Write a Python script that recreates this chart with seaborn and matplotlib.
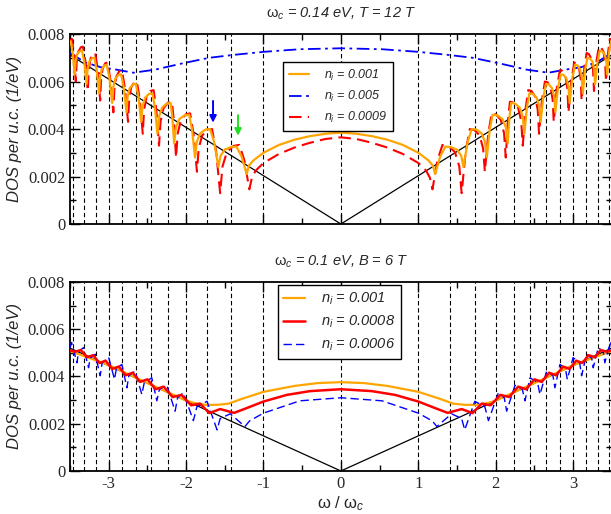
import matplotlib
matplotlib.use("Agg")
import matplotlib.pyplot as plt
import numpy as np
import seaborn as sns
from matplotlib.ticker import MultipleLocator, FuncFormatter

# Landau level positions (omega / omega_c); drawn at +/- each value
landau_levels = [0.0, 1.0, 1.414, 1.732, 2.0, 2.236, 2.449, 2.646, 2.828, 3.0, 3.162, 3.317, 3.464]

# clean-limit linear DOS (black line)
clean_x = [-3.5, 0.0, 3.5]
top_clean_y = [0.00712, 0.0, 0.00712]
bot_clean_y = [0.0052, 0.0, 0.0052]

top_orange_x = [-3.5, -3.49, -3.465, -3.44,
                -3.429, -3.407, -3.373, -3.345, -3.315, -3.285,
                -3.273, -3.25, -3.215, -3.185, -3.155, -3.125,
                -3.113, -3.09, -3.055, -3.025, -2.99, -2.955,
                -2.941, -2.915, -2.875, -2.84, -2.805, -2.77,
                -2.756, -2.728, -2.686, -2.65, -2.615, -2.58,
                -2.563, -2.529, -2.479, -2.435, -2.403, -2.37,
                -2.35, -2.31, -2.251, -2.2, -2.178, -2.155,
                -2.132, -2.087, -2.019, -1.96, -1.923, -1.885,
                -1.862, -1.817, -1.749, -1.69, -1.637, -1.583,
                -1.555, -1.501, -1.42, -1.35, -1.284, -1.217,
                -1.19, -1.13, -1.0, -0.8, -0.6, -0.4, -0.2, 0.0]
top_orange_y = [0.0076, 0.0077, 0.00721, 0.0063,
                0.00685, 0.00715, 0.00728, 0.0073, 0.00681, 0.0059,
                0.00651, 0.00684, 0.00698, 0.0070, 0.00648, 0.0055,
                0.00616, 0.00652, 0.00668, 0.0067, 0.00614, 0.0051,
                0.00576, 0.00612, 0.00628, 0.0063, 0.00574, 0.0047,
                0.00536, 0.00572, 0.00588, 0.0059, 0.00534, 0.0043,
                0.00496, 0.00532, 0.00548, 0.0055, 0.0049, 0.0038,
                0.00452, 0.0049, 0.00507, 0.0051, 0.0045, 0.0034,
                0.00406, 0.00442, 0.00458, 0.0046, 0.00397, 0.0028,
                0.00346, 0.00382, 0.00398, 0.0040, 0.00344, 0.0024,
                0.00287, 0.00313, 0.00324, 0.00326, 0.00285, 0.0021,
                0.00245, 0.00268, 0.0030, 0.00333, 0.00355, 0.0037, 0.0038, 0.00385]

top_red_x = [-3.5, -3.475, -3.45, -3.425,
             -3.414, -3.393, -3.361, -3.333, -3.30, -3.27,
             -3.258, -3.236, -3.203, -3.174, -3.142, -3.11,
             -3.099, -3.077, -3.044, -3.015, -2.978, -2.94,
             -2.927, -2.902, -2.863, -2.83, -2.79, -2.75,
             -2.736, -2.71, -2.67, -2.636, -2.598, -2.56,
             -2.543, -2.511, -2.462, -2.42, -2.385, -2.35,
             -2.33, -2.292, -2.234, -2.184, -2.157, -2.13,
             -2.108, -2.066, -2.003, -1.948, -1.904, -1.86,
             -1.837, -1.792, -1.724, -1.665, -1.612, -1.56,
             -1.53, -1.473, -1.386, -1.312, -1.247, -1.183,
             -1.15, -1.1, -1.0, -0.8, -0.6, -0.4, -0.2, 0.0]
top_red_y = [0.0077, 0.0078, 0.00717, 0.0060,
             0.00681, 0.00725, 0.00744, 0.00747, 0.00682, 0.0056,
             0.00648, 0.00696, 0.00716, 0.0072, 0.0065, 0.0052,
             0.00608, 0.00656, 0.00677, 0.0068, 0.00607, 0.0047,
             0.00568, 0.00621, 0.00644, 0.00648, 0.00572, 0.0043,
             0.00524, 0.00575, 0.00597, 0.0060, 0.00523, 0.0038,
             0.00481, 0.00536, 0.0056, 0.00564, 0.00482, 0.0033,
             0.00432, 0.00487, 0.00511, 0.00515, 0.00433, 0.0028,
             0.00382, 0.00438, 0.00462, 0.00466, 0.0038, 0.0022,
             0.00319, 0.00373, 0.00396, 0.0040, 0.00305, 0.0013,
             0.00242, 0.00303, 0.00329, 0.00333, 0.00268, 0.00146,
             0.00195, 0.00225, 0.00257, 0.00295, 0.00322, 0.00342, 0.00358, 0.00365]

top_blue_x = [-3.5, -3.3, -3.1, -2.9, -2.68, -2.4, -2.04, -1.7, -1.39, -1.0, -0.53, 0.0]
top_blue_y = [0.0072, 0.0068, 0.0066, 0.0065, 0.00637, 0.0065, 0.00677, 0.0070, 0.00712, 0.00725, 0.00736, 0.0074]

# ---- bottom panel: w_c = 0.1 eV ----
bot_orange_x = [-3.5, -3.0, -2.5, -2.0, -1.9, -1.75, -1.6, -1.45, -1.3, -1.0, -0.6, -0.3, 0.0]
bot_orange_y = [0.00508, 0.00448, 0.00372, 0.00298, 0.00288, 0.0028, 0.0028, 0.00285, 0.00303,
                0.00335, 0.0036, 0.00372, 0.00376]

bot_red_x = [-3.5, -3.43, -3.36, -3.28, -3.2, -3.12, -3.04, -2.955, -2.87, -2.78, -2.69, -2.595,
             -2.5, -2.395, -2.29, -2.175, -2.06, -1.935, -1.82, -1.70, -1.56, -1.38, -1.25,
             -1.0, -0.7, -0.4, 0.0]
bot_red_y = [0.0051, 0.00505, 0.00512, 0.00482, 0.0049, 0.00457, 0.00467, 0.00432, 0.00442, 0.00405,
             0.00416, 0.00377, 0.00388, 0.00346, 0.00357, 0.00313, 0.00322, 0.00278, 0.00285, 0.00245,
             0.00262, 0.00246, 0.00262, 0.00294, 0.00322, 0.00338, 0.00346]

bot_blue_x = [-3.5, -3.48, -3.41, -3.39, -3.325, -3.26, -3.24, -3.174, -3.11, -3.085, -3.0,
              -2.925, -2.9, -2.83, -2.765, -2.74, -2.658, -2.572, -2.54, -2.443, -2.378, -2.345,
              -2.249, -2.142, -2.11, -2.035, -1.906, -1.86, -1.73, -1.6, -1.56, -1.43, -1.24,
              -1.18, -1.0, -0.53, 0.0]
bot_blue_y = [0.0052, 0.00544, 0.00458, 0.00505, 0.00522, 0.00437, 0.00478, 0.00494, 0.00403, 0.00458, 0.0048,
              0.00388, 0.00435, 0.00451, 0.00352, 0.00403, 0.00423, 0.00324, 0.00375, 0.00394, 0.00297, 0.00345,
              0.00363, 0.00253, 0.0031, 0.00331, 0.00213, 0.00272, 0.00295, 0.00174, 0.00222, 0.00242, 0.00188,
              0.00212, 0.00245, 0.00297, 0.0031]


def mirror(x, y):
    x = np.asarray(x)
    y = np.asarray(y)
    return np.concatenate([x, -x[::-1][1:]]), np.concatenate([y, y[::-1][1:]])


sns.set_style("ticks")
plt.rcParams["font.family"] = ["Liberation Sans", "DejaVu Sans"]
plt.rcParams["mathtext.fontset"] = "custom"
plt.rcParams["mathtext.rm"] = "Liberation Sans"
plt.rcParams["mathtext.it"] = "Liberation Sans:italic"
plt.rcParams["axes.unicode_minus"] = False

fig = plt.figure(figsize=(6.11, 5.14), dpi=100)
fig.patch.set_facecolor("white")
ax_top = fig.add_axes([70 / 611, 0.5642, 541.8 / 611, 0.3696])
ax_bot = fig.add_axes([70 / 611, 0.0837, 541.8 / 611, 0.3677])

orange = "#ffa500"
red = "#ff0000"
blue = "#0000ff"


def style_axes(ax, title, show_x):
    ax.set_facecolor("white")
    ax.set_xlim(-3.5, 3.5)
    ax.set_ylim(0, 0.008)
    for lvl in landau_levels:
        for s in ([1] if lvl == 0 else [-1, 1]):
            ax.axvline(s * lvl, color="black", lw=0.8, linestyle=(0, (4, 2.5)), zorder=1)
    ax.set_xticks([-3, -2, -1, 0, 1, 2, 3])
    ax.xaxis.set_minor_locator(MultipleLocator(0.5))
    ax.set_yticks([0, 0.002, 0.004, 0.006, 0.008])
    ax.yaxis.set_minor_locator(MultipleLocator(0.001))
    ax.yaxis.set_major_formatter(FuncFormatter(lambda v, p: "0" if abs(v) < 1e-9 else f"{v:.3f}"))
    ax.xaxis.set_major_formatter(FuncFormatter(lambda v, p: f"{v:.0f}" if show_x else ""))
    ax.tick_params(which="both", direction="in", top=True, right=True, color="black", width=1.0)
    ax.tick_params(which="major", length=7, labelsize=12, labelfontfamily="Liberation Serif")
    ax.tick_params(which="minor", length=4)
    for sp in ax.spines.values():
        sp.set_linewidth(1.3)
        sp.set_color("black")
    ax.set_ylabel("DOS per u.c. (1/eV)", style="italic", fontsize=12, labelpad=4)
    ax.set_title(title, fontsize=10.5, pad=12, style="italic")
    ax.grid(False)


# top panel
x, y = mirror(top_orange_x, top_orange_y)
sns.lineplot(x=x, y=y, ax=ax_top, sort=False, estimator=None, color=orange, lw=1.6,
             label=r"$n_i$ = 0.001", zorder=4)
x, y = mirror(top_blue_x, top_blue_y)
sns.lineplot(x=x, y=y, ax=ax_top, sort=False, estimator=None, color=blue, lw=1.3,
             linestyle=(0, (7, 2.5, 1.5, 2.5)), label=r"$n_i$ = 0.005", zorder=3)
x, y = mirror(top_red_x, top_red_y)
sns.lineplot(x=x, y=y, ax=ax_top, sort=False, estimator=None, color=red, lw=1.5,
             linestyle=(0, (6, 3)), label=r"$n_i$ = 0.0009", zorder=3)
ax_top.plot(clean_x, top_clean_y, color="black", lw=0.9, zorder=2)
ax_top.annotate("", xy=(-1.652, 0.00415), xytext=(-1.652, 0.0053),
                arrowprops=dict(arrowstyle="-|>", color="#0000ff", lw=1.4, mutation_scale=10))
ax_top.annotate("", xy=(-1.329, 0.0036), xytext=(-1.329, 0.0047),
                arrowprops=dict(arrowstyle="-|>", color="#22dd22", lw=1.4, mutation_scale=10))
style_axes(ax_top, r"$\mathrm{\omega}_c$ = 0.14 eV, $T$ = 12 $T$", False)
leg = ax_top.legend(loc="upper left", bbox_to_anchor=(0.394, 0.853), borderaxespad=0,
                    fancybox=False, edgecolor="black", framealpha=1, handlelength=1.6,
                    handletextpad=1.2, prop={"style": "italic", "size": 9},
                    borderpad=0.45, labelspacing=0.5)
leg.get_frame().set_linewidth(1.0)

# bottom panel
x, y = mirror(bot_orange_x, bot_orange_y)
sns.lineplot(x=x, y=y, ax=ax_bot, sort=False, estimator=None, color=orange, lw=1.6,
             label=r"$n_i$ = 0.001", zorder=3)
x, y = mirror(bot_red_x, bot_red_y)
sns.lineplot(x=x, y=y, ax=ax_bot, sort=False, estimator=None, color=red, lw=1.8,
             label=r"$n_i$ = 0.0008", zorder=4)
x, y = mirror(bot_blue_x, bot_blue_y)
sns.lineplot(x=x, y=y, ax=ax_bot, sort=False, estimator=None, color=blue, lw=1.0,
             linestyle=(0, (6, 3)), label=r"$n_i$ = 0.0006", zorder=3)
ax_bot.plot(clean_x, bot_clean_y, color="black", lw=0.9, zorder=2)
style_axes(ax_bot, r"$\mathrm{\omega}_c$ = 0.1 eV, $B$ = 6 $T$", True)
ax_bot.set_xlabel(r"$\mathrm{\omega}$ / $\mathrm{\omega}_c$", fontsize=12, labelpad=2)
leg = ax_bot.legend(loc="upper left", bbox_to_anchor=(0.383, 0.984), borderaxespad=0,
                    fancybox=False, edgecolor="black", framealpha=1, handlelength=1.5,
                    handletextpad=1.1, prop={"style": "italic", "size": 10.5},
                    borderpad=0.4, labelspacing=0.45)
leg.get_frame().set_linewidth(1.0)

fig.savefig("out.png", dpi=100)
